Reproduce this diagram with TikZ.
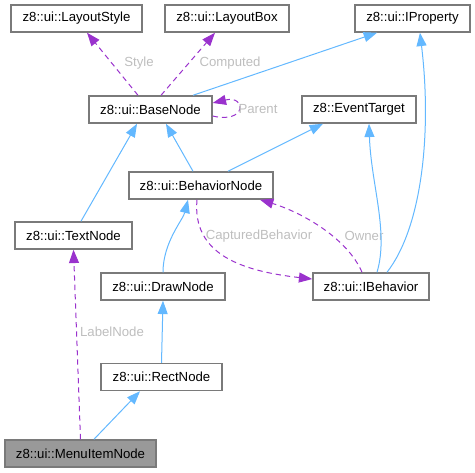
\documentclass[tikz,border=0pt]{standalone}
\usepackage{fontspec}
\setmainfont{Liberation Sans}
\usetikzlibrary{arrows.meta}
\definecolor{boxline}{HTML}{7A7A7A}
\definecolor{mainfill}{HTML}{999999}
\definecolor{inhblue}{HTML}{63B8FF}
\definecolor{usepurple}{HTML}{9A32CD}
\definecolor{lblgrey}{HTML}{BEBEBE}

\begin{document}
\begin{tikzpicture}[x=0.75pt, y=-0.75pt,
    cls/.style = {draw=boxline, fill=white, line width=1.1pt, inner sep=0pt, minimum height=20.25pt, font=\fontsize{9.9}{12}\selectfont},
    inh/.style = {draw=inhblue, line width=0.75pt, -{Triangle[length=10pt, width=7.5pt]}},
    uses/.style = {draw=usepurple, line width=0.75pt, dash pattern=on 4pt off 3pt, -{Triangle[length=10pt, width=7.5pt]}},
    lbl/.style = {text=lblgrey, inner sep=0pt, font=\fontsize{9.9}{12}\selectfont}]
    \useasboundingbox (0,0) rectangle (475,472);

    \node[cls, minimum width=98.25pt] (lstyle) at (76.5, 18.5) {z8::ui::LayoutStyle};
    \node[cls, minimum width=93pt] (lbox) at (227, 18.5) {z8::ui::LayoutBox};
    \node[cls, minimum width=86.25pt] (iprop) at (412.5, 18.5) {z8::ui::IProperty};
    \node[cls, minimum width=92.25pt] (base) at (150.5, 109.5) {z8::ui::BaseNode};
    \node[cls, minimum width=85.5pt] (evt) at (359, 109.5) {z8::EventTarget};
    \node[cls, minimum width=108pt] (behav) at (201, 185.5) {z8::ui::BehaviorNode};
    \node[cls, minimum width=87.75pt] (text) at (73.5, 235.5) {z8::ui::TextNode};
    \node[cls, minimum width=93pt] (drawn) at (163, 286.5) {z8::ui::DrawNode};
    \node[cls, minimum width=87pt] (ibeh) at (371, 286.5) {z8::ui::IBehavior};
    \node[cls, minimum width=90.75pt] (rect) at (161.5, 377) {z8::ui::RectNode};
    \node[cls, minimum width=113.25pt, fill=mainfill] (menu) at (80.5, 453.5) {z8::ui::MenuItemNode};

    % members
    \draw[uses] ([xshift=-9.4pt]base.north) -- ([xshift=7.9pt]lstyle.south);
    \draw[uses] ([xshift=7.9pt]base.north) -- ([xshift=-9pt]lbox.south);
    \draw[uses] ([yshift=-4.9pt]base.east) .. controls +(34,8) and +(34,-8) .. ([yshift=4.9pt]base.east);
    \draw[uses] ([xshift=-3pt]behav.south) .. controls +(-5,55) and +(-70,-8) .. ([yshift=5.6pt]ibeh.west);
    \draw[uses] ([xshift=-6.75pt]ibeh.north) .. controls +(-15,-35) and +(40,12) .. ([xshift=44.25pt]behav.south);
    \draw[uses] (menu.north) -- (text.south);
    \node[lbl] (lstylelbl) at (139, 63) {Style};
    \node[lbl] (lboxlbl) at (230, 63) {Computed};
    \node[lbl] (parentlbl) at (258, 109) {Parent};
    \node[lbl] (capturedlbl) at (259, 236) {CapturedBehavior};
    \node[lbl] (ownerlbl) at (364, 236) {Owner};
    \node[lbl] (labellbl) at (112, 332) {LabelNode};

    % inheritance
    \draw[inh] ([xshift=31.9pt]base.north) -- ([xshift=-26.6pt]iprop.south);
    \draw[inh] ([xshift=5.6pt]text.north) -- ([xshift=-10.1pt]base.south);
    \draw[inh] ([xshift=-6pt]behav.north) -- ([xshift=11.6pt]base.south);
    \draw[inh] ([xshift=20.25pt]behav.north) -- ([xshift=-27pt]evt.south);
    \draw[inh] ([xshift=4.5pt]ibeh.north) .. controls +(12,-40) and +(2,60) .. ([xshift=7.5pt]evt.south);
    \draw[inh] ([xshift=12pt]ibeh.north) .. controls +(35,-45) and +(12,100) .. ([xshift=5.6pt]iprop.south);
    \draw[inh] (drawn.north) .. controls +(0,-30) and +(-5,20) .. ([xshift=-9.75pt]behav.south);
    \draw[inh] ([xshift=10.1pt]menu.north) -- ([xshift=-16.1pt]rect.south);
    \draw[inh] (rect.north) -- (drawn.south);

\end{tikzpicture}
\end{document}
